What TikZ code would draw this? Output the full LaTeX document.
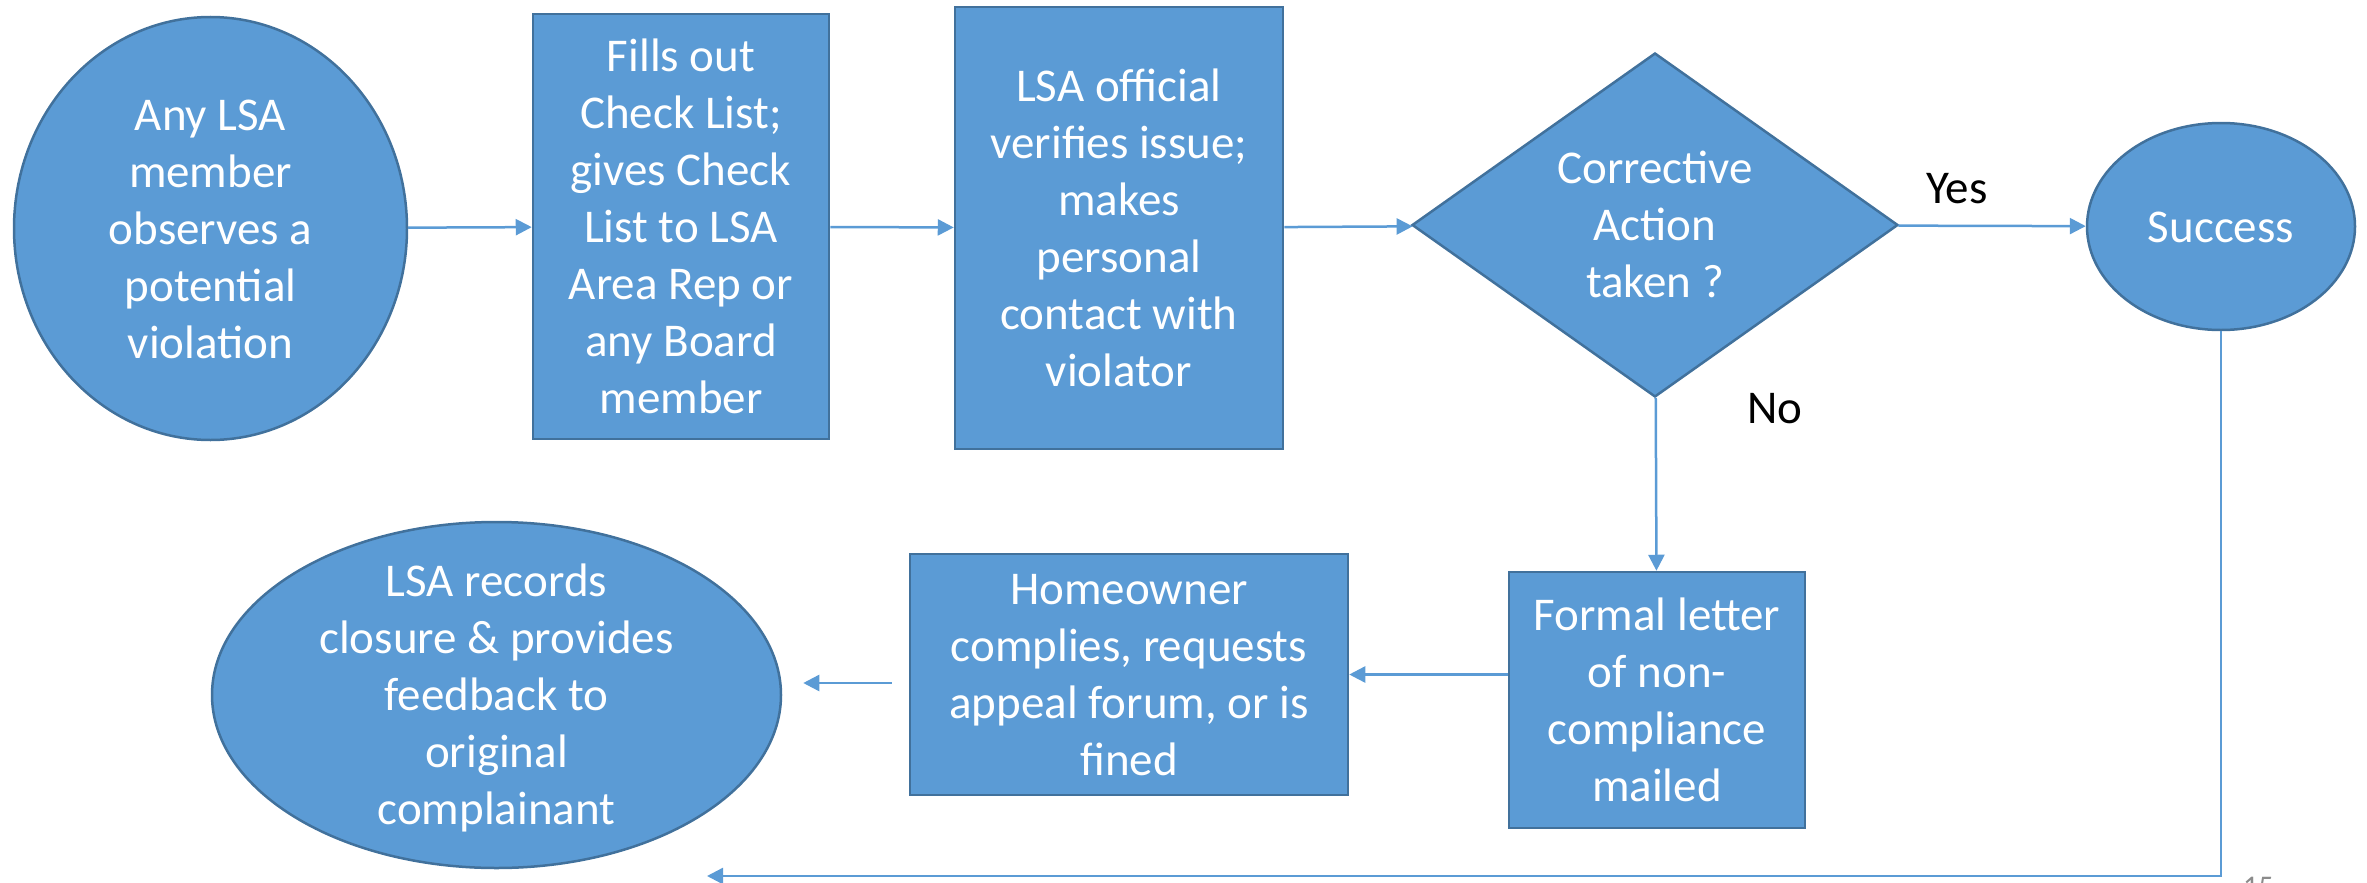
\documentclass[tikz,border=0pt]{standalone}
\usepackage{fontspec}
\setmainfont{Carlito}
\usetikzlibrary{arrows.meta,shapes.geometric}
\definecolor{boxfill}{HTML}{5B9BD5}
\definecolor{boxline}{HTML}{41719C}
\definecolor{conline}{HTML}{5B9BD5}
\definecolor{pgnum}{HTML}{8B8B8B}
\newcommand\mystrut{\rule[-13pt]{0pt}{57pt}}
\begin{document}
\begin{tikzpicture}[x=1pt,y=-1pt,
  shapebox/.style={draw=boxline, fill=boxfill, line width=2.5pt, inner sep=0pt},
  txt/.style={text=white, align=center, inner sep=0pt, font=\fontsize{47}{57}\selectfont},
  lbl/.style={text=black, inner sep=0pt, font=\fontsize{47}{57}\selectfont},
  conn/.style={draw=conline, line width=2.5pt, -{Triangle[length=16pt,width=16pt]}}]
\useasboundingbox (0,0) rectangle (2367,883);

% shapes
\node[shapebox, ellipse, minimum width=393pt, minimum height=423pt] (e1) at (210.5,228.5) {};
\node[txt] (t1) at (e1) {\mystrut Any LSA\\member\\observes a\\potential\\violation\mystrut};

\node[shapebox, rectangle, minimum width=296pt, minimum height=425pt] (b2) at (681,226.5) {};
\node[txt] (t2) at (b2) {\mystrut Fills out\\Check List;\\gives Check\\List to LSA\\Area Rep or\\any Board\\member\mystrut};

\node[shapebox, rectangle, minimum width=328pt, minimum height=442pt] (b3) at (1119,228) {};
\node[txt] (t3) at (b3) {\mystrut LSA official\\verifies issue;\\makes\\personal\\contact with\\violator\mystrut};

\node[shapebox, diamond, aspect=1.413, minimum width=486pt, minimum height=344pt] (d) at (1655,225) {};
\node[txt] (td) at (d) {\mystrut Corrective\\Action\\taken ?\mystrut};

\node[shapebox, ellipse, minimum width=268pt, minimum height=207pt] (s) at (2221,226.5) {};
\node[txt] (ts) at (s) {\mystrut Success\mystrut};

\node[shapebox, rectangle, minimum width=296pt, minimum height=256pt] (f) at (1657,700) {};
\node[txt] (tf) at (f) {\mystrut Formal letter\\of non-\\compliance\\mailed\mystrut};

\node[shapebox, rectangle, minimum width=438pt, minimum height=241pt] (h) at (1129,674.5) {};
\node[txt] (th) at (h) {\mystrut Homeowner\\complies, requests\\appeal forum, or is\\fined\mystrut};

\node[shapebox, ellipse, minimum width=569pt, minimum height=346pt] (r) at (496.5,695) {};
\node[txt] (tr) at (r) {\mystrut LSA records\\closure \& provides\\feedback to\\original\\complainant\mystrut};

% labels
\node[lbl, anchor=base] (yes) at (1957,203) {Yes};
\node[lbl, anchor=base] (no) at (1775,423) {No};
\node[font=\fontsize{30}{36}\selectfont, text=pgnum, anchor=base west, inner sep=0pt] (pg) at (2243,896) {15};

% connectors
\draw[conn] (e1) -- (b2);
\draw[conn] (b2) -- (b3);
\draw[conn] (b3) -- (d);
\draw[conn] (d) -- (s);
\draw[conn] (d) -- (f);
\draw[conn] (f.west |- h.east) -- (h.east);
\draw[conn] ([shift={(-17,8.5)}]h.west) -- ([shift={(21,-12)}]r.east);
\coordinate (endb) at (707,876);
\draw[conn] (s.south) |- (endb);
\end{tikzpicture}
\end{document}
